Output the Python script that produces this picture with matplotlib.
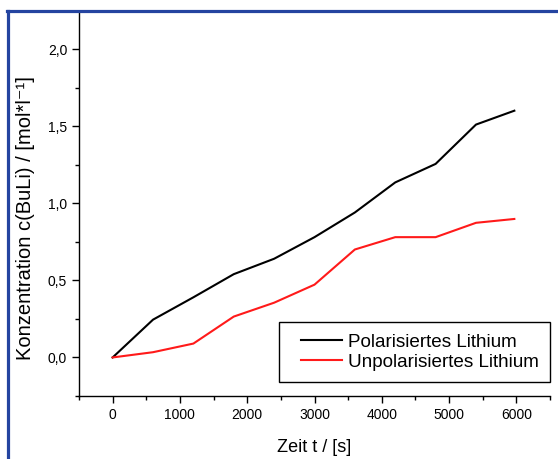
import matplotlib.pyplot as plt
from matplotlib.legend_handler import HandlerLine2D
from matplotlib.lines import Line2D
from matplotlib.ticker import FuncFormatter, MultipleLocator

plt.rcParams["font.family"] = ["Liberation Sans", "DejaVu Sans"]

zeit = [0, 600, 1200, 1800, 2400, 3000, 3600, 4200, 4800, 5400, 5970]
polarisiert = [0.0, 0.245, 0.39, 0.54, 0.64, 0.78, 0.94, 1.135, 1.255, 1.51, 1.60]
unpolarisiert = [0.0, 0.034, 0.09, 0.265, 0.355, 0.472, 0.70, 0.78, 0.78, 0.873, 0.898]


class VersetzteLinie(HandlerLine2D):
    # Linie im Legendensymbol etwas nach rechts schieben
    def get_xdata(self, legend, xdescent, ydescent, width, height, fontsize):
        xd, xm = super().get_xdata(legend, xdescent, ydescent, width, height, fontsize)
        xd = [xd[0] + 8, xd[-1]]
        return xd, xm


fig = plt.figure(figsize=(5.58, 4.59), dpi=100)
ax = fig.add_axes([79 / 558, 1 - 396 / 459, 471 / 558, 384 / 459])

ax.plot(zeit, polarisiert, color="black", lw=1.5, label="Polarisiertes Lithium")
ax.plot(zeit, unpolarisiert, color="#ff1a1a", lw=1.5, label="Unpolarisiertes Lithium")

ax.set_xlim(-500, 6500)
ax.set_ylim(-0.25, 2.24)
ax.xaxis.set_major_locator(MultipleLocator(1000))
ax.xaxis.set_minor_locator(MultipleLocator(500))
ax.yaxis.set_major_locator(MultipleLocator(0.5))
ax.yaxis.set_minor_locator(MultipleLocator(0.25))
ax.yaxis.set_major_formatter(FuncFormatter(lambda v, p: f"{v:.1f}".replace(".", ",")))

for s in ["top", "right"]:
    ax.spines[s].set_visible(False)
for s in ["left", "bottom"]:
    ax.spines[s].set_linewidth(1.0)

ax.tick_params(which="major", direction="out", length=5, width=1, pad=3.5, labelsize=10)
ax.tick_params(which="minor", direction="out", length=3, width=1)

ax.set_xlabel("Zeit t / [s]", fontsize=13, va="top")
ax.xaxis.set_label_coords(0.5, -43 / 384)
ax.set_ylabel("Konzentration c(BuLi) / [mol*l⁻¹]", fontsize=14.5)
ax.yaxis.set_label_coords(-44 / 471, 1 - 206 / 384)

leg = ax.legend(loc="lower right", bbox_to_anchor=(1.0, 14 / 384), borderaxespad=0,
                fontsize=13.6, fancybox=False, framealpha=1, edgecolor="black",
                handlelength=(44 + 8) / 18.9, handletextpad=0.3, labelspacing=0.15,
                borderpad=0.6, handler_map={Line2D: VersetzteLinie()})
leg.get_frame().set_linewidth(1.0)

# blauer Rahmen links und oben
blau = "#2444a0"
fig.add_artist(Line2D([7.5 / 558, 7.5 / 558], [0, 1 - 10.5 / 459], color=blau, lw=2.3,
                      transform=fig.transFigure))
fig.add_artist(Line2D([6.5 / 558, 1], [1 - 10.5 / 459, 1 - 10.5 / 459], color=blau, lw=2.3,
                      transform=fig.transFigure))

fig.savefig("out.png", dpi=100)
